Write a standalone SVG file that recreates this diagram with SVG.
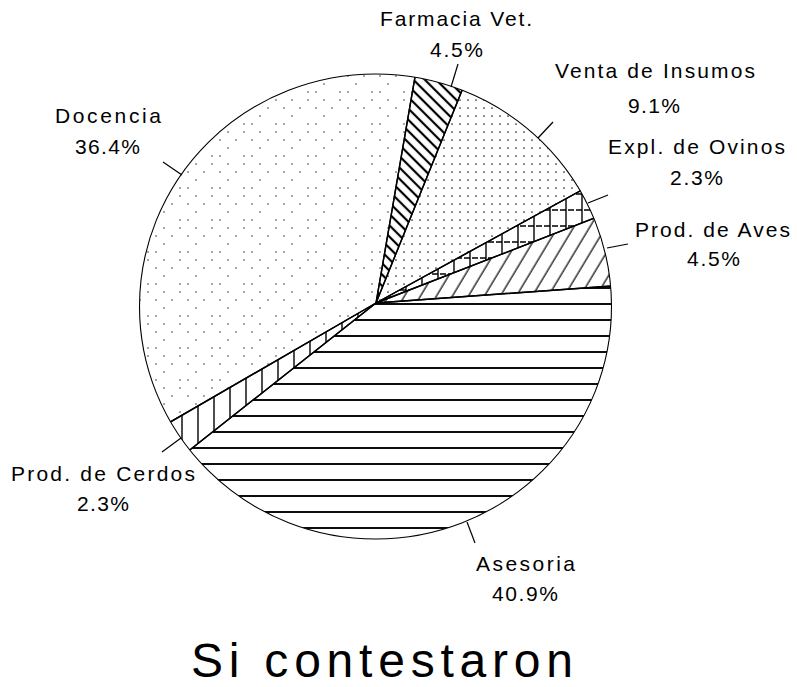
<svg xmlns="http://www.w3.org/2000/svg" width="797" height="687" viewBox="0 0 797 687">
<style>
.lbl{font-family:"Liberation Sans",Arial,sans-serif;font-size:21px;fill:#000}
.ttl{font-family:"Liberation Sans",Arial,sans-serif;font-size:48px;fill:#000}
.wedge{stroke:#000;stroke-width:1.4;stroke-linejoin:miter}
.lead{stroke:#000;stroke-width:1.2;fill:none}
</style>
<defs>
<clipPath id="pie"><ellipse cx="375.5" cy="306.5" rx="236" ry="232.5"/></clipPath>
<pattern id="pAses" patternUnits="userSpaceOnUse" x="0" y="-8" width="16" height="16">
<line x1="0" y1="8" x2="16" y2="8" stroke="#000" stroke-width="1.9"/>
</pattern>
<pattern id="pCerd" patternUnits="userSpaceOnUse" x="0" y="0" width="16" height="16">
<line x1="6" y1="0" x2="6" y2="16" stroke="#000" stroke-width="1.4"/>
</pattern>
<pattern id="pOvin" patternUnits="userSpaceOnUse" x="0" y="0" width="16" height="16">
<line x1="6" y1="0" x2="6" y2="16" stroke="#000" stroke-width="1.4"/>
<line x1="0" y1="2" x2="16" y2="2" stroke="#000" stroke-width="1.4" stroke-dasharray="6 2"/>
</pattern>
<pattern id="pFarm" patternUnits="userSpaceOnUse" x="0" y="0" width="8" height="8" patternTransform="rotate(45)">
<line x1="0" y1="4" x2="8" y2="4" stroke="#000" stroke-width="2.2"/>
</pattern>
<pattern id="pAves" patternUnits="userSpaceOnUse" x="0" y="0" width="13.7" height="13.7" patternTransform="rotate(31)">
<line x1="6" y1="0" x2="6" y2="13.7" stroke="#000" stroke-width="1.2"/>
</pattern>
<pattern id="pVent" patternUnits="userSpaceOnUse" x="0" y="0" width="8" height="8">
<circle cx="4" cy="4" r="0.85" fill="#222"/>
</pattern>
<pattern id="pDoc" patternUnits="userSpaceOnUse" x="0" y="0" width="32" height="32">
<circle cx="4" cy="4" r="0.8" fill="#333"/>
<circle cx="20" cy="4" r="0.8" fill="#333"/>
<circle cx="12" cy="12" r="0.8" fill="#333"/>
<circle cx="28" cy="12" r="0.8" fill="#333"/>
<circle cx="4" cy="20" r="0.8" fill="#333"/>
<circle cx="20" cy="28" r="0.8" fill="#333"/>
<circle cx="28" cy="28" r="0.8" fill="#333"/>
</pattern>
</defs>
<rect x="0" y="0" width="797" height="687" fill="#fff"/>

<g id="slices" clip-path="url(#pie)">
<g id="asesoria"><polygon class="wedge" fill="url(#pAses)" points="376,303 846,269 846,800 -100,800 6,595"/></g>
<g id="cerdos"><polygon class="wedge" fill="url(#pCerd)" points="376,303 6,595 -32,539"/></g>
<g id="docencia"><polygon class="wedge" fill="url(#pDoc)" points="376,303 -32,539 -300,-300 480,-300"/></g>
<g id="farmacia"><polygon class="wedge" fill="url(#pFarm)" points="376,303 480,-300 620,-300"/></g>
<g id="venta"><polygon class="wedge" fill="url(#pVent)" points="376,303 620,-300 900,-300 784,79"/></g>
<g id="ovinos"><polygon class="wedge" fill="url(#pOvin)" points="376,303 784,79 808,135"/></g>
<g id="aves"><polygon class="wedge" fill="url(#pAves)" points="376,303 808,135 846,269"/></g>
</g>
<ellipse id="outline" cx="375.5" cy="306.5" rx="236" ry="232.5" fill="none" stroke="#000" stroke-width="1.1"/>

<g id="connectors">
<line class="lead" x1="451" y1="87" x2="458" y2="64"/>
<line class="lead" x1="538" y1="138" x2="553" y2="122"/>
<line class="lead" x1="588" y1="203" x2="608" y2="195"/>
<line class="lead" x1="607" y1="248" x2="628" y2="244"/>
<line class="lead" x1="163" y1="162" x2="182" y2="175"/>
<line class="lead" x1="162" y1="452" x2="181" y2="438"/>
<line class="lead" x1="467" y1="522" x2="475" y2="543"/>
</g>

<g id="labels">
<g id="lbl-farmacia"><text class="lbl" x="380" y="26" textLength="152" lengthAdjust="spacing">Farmacia Vet.</text><text class="lbl" x="430" y="57" textLength="53" lengthAdjust="spacing">4.5%</text></g>
<g id="lbl-venta"><text class="lbl" x="555" y="78" textLength="200" lengthAdjust="spacing">Venta de Insumos</text><text class="lbl" x="628" y="113" textLength="52" lengthAdjust="spacing">9.1%</text></g>
<g id="lbl-ovinos"><text class="lbl" x="608" y="154" textLength="177" lengthAdjust="spacing">Expl. de Ovinos</text><text class="lbl" x="670" y="185" textLength="53" lengthAdjust="spacing">2.3%</text></g>
<g id="lbl-aves"><text class="lbl" x="635" y="237" textLength="155" lengthAdjust="spacing">Prod. de Aves</text><text class="lbl" x="687" y="266" textLength="53" lengthAdjust="spacing">4.5%</text></g>
<g id="lbl-docencia"><text class="lbl" x="55" y="123" textLength="106" lengthAdjust="spacing">Docencia</text><text class="lbl" x="75" y="154" textLength="65" lengthAdjust="spacing">36.4%</text></g>
<g id="lbl-cerdos"><text class="lbl" x="11" y="481" textLength="184" lengthAdjust="spacing">Prod. de Cerdos</text><text class="lbl" x="77" y="511" textLength="52" lengthAdjust="spacing">2.3%</text></g>
<g id="lbl-asesoria"><text class="lbl" x="476" y="571" textLength="99" lengthAdjust="spacing">Asesoria</text><text class="lbl" x="492" y="601" textLength="66" lengthAdjust="spacing">40.9%</text></g>
</g>
<text id="title" class="ttl" x="191" y="677" textLength="382" lengthAdjust="spacing">Si contestaron</text>
</svg>
